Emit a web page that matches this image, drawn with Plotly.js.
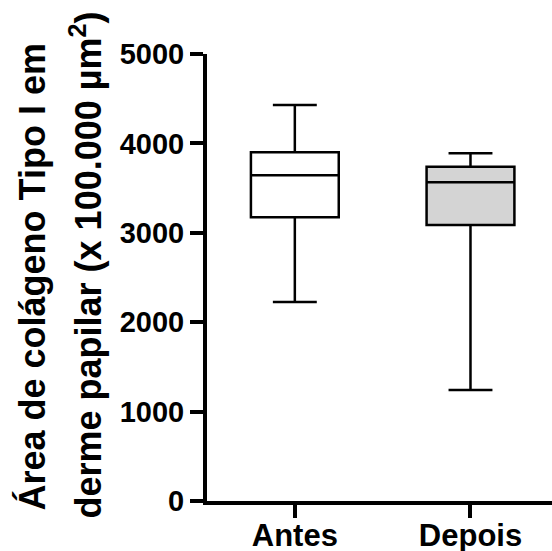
<!DOCTYPE html>
<html>
<head>
<meta charset="utf-8">
<script src="https://cdn.plot.ly/plotly-3.0.1.min.js"></script>
<style>html,body{margin:0;padding:0;background:#fff;}#chart{width:552px;height:551px;}</style>
</head>
<body>
<div id="chart"></div>
<script>
const categories = ['Antes', 'Depois'];
const q1 = [3173, 3087];
const median = [3643, 3565];
const q3 = [3900, 3739];
const lowerWhisker = [2226, 1242];
const upperWhisker = [4430, 3889];
const yTickVals = [0, 1000, 2000, 3000, 4000, 5000];
const yTickText = ['0', '1000', '2000', '3000', '4000', '5000'];
const titleLine1 = 'Área de colágeno Tipo I em';
const titleLine2 = 'derme papilar (x 100.000 µm<sup>2</sup>)';

const fills = ['#ffffff', '#d4d4d4'];
const FONT = 'Liberation Sans, Arial, sans-serif';

const traces = categories.map((c, i) => ({
  type: 'box',
  x: [c],
  q1: [q1[i]],
  median: [median[i]],
  q3: [q3[i]],
  lowerfence: [lowerWhisker[i]],
  upperfence: [upperWhisker[i]],
  fillcolor: fills[i],
  line: {color: '#000', width: 2.5},
  width: 0.5,
  whiskerwidth: 0.5,
  boxpoints: false,
  hoverinfo: 'none',
  showlegend: false
}));

const W = 552, H = 551, L = 207, R = 0, T = 54, B = 50;
const pw = W - L - R, ph = H - T - B;
function px2paperX(p) { return (p - L) / pw; }
function px2paperY(p) { return (H - B - p) / ph; }

const layout = {
  width: W, height: H,
  margin: {l: L, r: R, t: T, b: B, pad: 0},
  paper_bgcolor: '#fff', plot_bgcolor: '#fff',
  showlegend: false,
  xaxis: {
    type: 'category',
    range: [-0.5, 1.464],
    showline: true, linewidth: 4, linecolor: '#000',
    ticks: 'outside', ticklen: 13, tickwidth: 4, tickcolor: '#000',
    ticklabelstandoff: -9,
    tickfont: {family: FONT, size: 31, color: '#000', weight: 'bold'},
    showgrid: false, zeroline: false
  },
  yaxis: {
    range: [0, 5000],
    tickvals: yTickVals, ticktext: yTickText,
    showline: true, linewidth: 4, linecolor: '#000',
    ticks: 'outside', ticklen: 13, tickwidth: 4, tickcolor: '#000',
    tickfont: {family: FONT, size: 29, color: '#000', weight: 'bold'},
    showgrid: false, zeroline: false
  },
  annotations: [
    {text: titleLine1, xref: 'paper', yref: 'paper', x: px2paperX(31.5), y: px2paperY(277),
     xanchor: 'center', yanchor: 'middle', textangle: -90, showarrow: false,
     font: {family: FONT, size: 36, color: '#000', weight: 'bold'}},
    {text: titleLine2, xref: 'paper', yref: 'paper', x: px2paperX(85), y: px2paperY(265.5),
     xanchor: 'center', yanchor: 'middle', textangle: -90, showarrow: false,
     font: {family: FONT, size: 36, color: '#000', weight: 'bold'}}
  ]
};

Plotly.newPlot('chart', traces, layout, {staticPlot: true, displayModeBar: false});
</script>
</body>
</html>
